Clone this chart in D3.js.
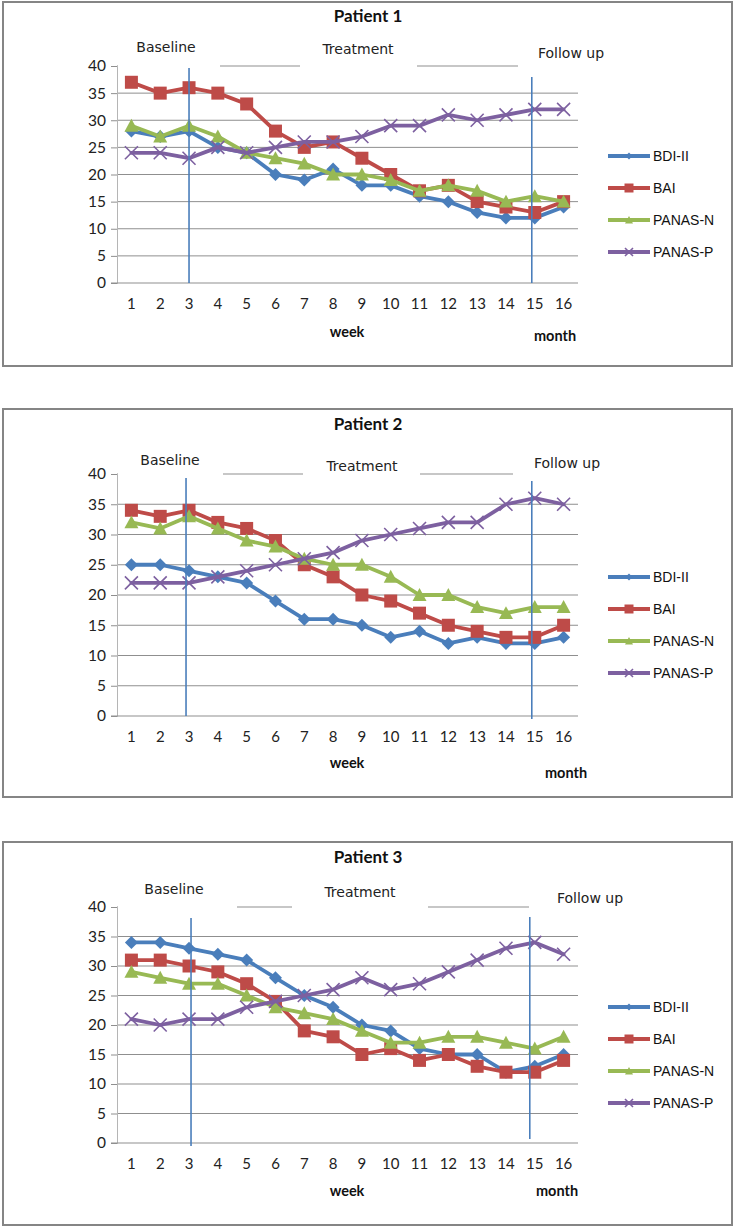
<!DOCTYPE html>
<html>
<head>
<meta charset="utf-8">
<script src="https://cdn.jsdelivr.net/npm/d3@7"></script>
<style>
  html, body { margin: 0; padding: 0; background: #fff; }
  svg { display: block; }
</style>
</head>
<body>
<svg id="chart" width="736" height="1226"></svg>
<script>
// ---------- data ----------
const weeks = ["1","2","3","4","5","6","7","8","9","10","11","12","13","14","15","16"];
const seriesNames = ["BDI-II", "BAI", "PANAS-N", "PANAS-P"];
const yTicks = [0, 5, 10, 15, 20, 25, 30, 35, 40];
const titles = ["Patient 1", "Patient 2", "Patient 3"];
const phaseLabels = ["Baseline", "Treatment", "Follow up"];
const phaseMarks = ["3", "15"];

const p1_bdi   = [28, 27, 28, 25, 24, 20, 19, 21, 18, 18, 16, 15, 13, 12, 12, 14];
const p1_bai   = [37, 35, 36, 35, 33, 28, 25, 26, 23, 20, 17, 18, 15, 14, 13, 15];
const p1_panN  = [29, 27, 29, 27, 24, 23, 22, 20, 20, 19, 17, 18, 17, 15, 16, 15];
const p1_panP  = [24, 24, 23, 25, 24, 25, 26, 26, 27, 29, 29, 31, 30, 31, 32, 32];

const p2_bdi   = [25, 25, 24, 23, 22, 19, 16, 16, 15, 13, 14, 12, 13, 12, 12, 13];
const p2_bai   = [34, 33, 34, 32, 31, 29, 25, 23, 20, 19, 17, 15, 14, 13, 13, 15];
const p2_panN  = [32, 31, 33, 31, 29, 28, 26, 25, 25, 23, 20, 20, 18, 17, 18, 18];
const p2_panP  = [22, 22, 22, 23, 24, 25, 26, 27, 29, 30, 31, 32, 32, 35, 36, 35];

const p3_bdi   = [34, 34, 33, 32, 31, 28, 25, 23, 20, 19, 16, 15, 15, 12, 13, 15];
const p3_bai   = [31, 31, 30, 29, 27, 24, 19, 18, 15, 16, 14, 15, 13, 12, 12, 14];
const p3_panN  = [29, 28, 27, 27, 25, 23, 22, 21, 19, 17, 17, 18, 18, 17, 16, 18];
const p3_panP  = [21, 20, 21, 21, 23, 24, 25, 26, 28, 26, 27, 29, 31, 33, 34, 32];

const patientSeries = [
  [p1_bdi, p1_bai, p1_panN, p1_panP],
  [p2_bdi, p2_bai, p2_panN, p2_panP],
  [p3_bdi, p3_bai, p3_panN, p3_panP]
];

// ---------- styling / layout ----------
const colors = ["#4A7EBB", "#BE4B48", "#98B954", "#7D60A0"];
const shapes = ["diamond", "square", "triangle", "cross"];
const plotLeft = 117, plotRight = 578;

const layouts = [
  { top: 2, bottom: 366, titleY: 16, phaseY: [47, 49, 53], phaseX: [166, 358, 571],
    y40: 66, y0: 283, tickY: 304, weekY: 332, monthY: 336, weekX: 347, monthX: 555,
    legendY: 156, markTop: [68, 77], markBottom: [283, 283], markDx: [0, -3],
    gaps: [[118, 220], [300, 417], [518, 579]] },
  { top: 409, bottom: 797, titleY: 424, phaseY: [460, 466, 463], phaseX: [170, 362, 567],
    y40: 474, y0: 716, tickY: 737, weekY: 763, monthY: 773, weekX: 347, monthX: 566,
    legendY: 577, markTop: [478, 481], markBottom: [716, 719], markDx: [-3, -3],
    gaps: [[118, 223], [303, 420], [513, 579]] },
  { top: 842, bottom: 1225, titleY: 857, phaseY: [889, 892, 898], phaseX: [174, 360, 590],
    y40: 907, y0: 1143, tickY: 1164, weekY: 1191, monthY: 1191, weekX: 347, monthX: 557,
    legendY: 1007, markTop: [918, 917], markBottom: [1146, 1139], markDx: [2, -5],
    gaps: [[118, 237], [292, 428], [529, 579]] }
];

const svg = d3.select("#chart");
svg.append("rect").attr("width", 736).attr("height", 1226).attr("fill", "#fff");

function markerPath(shape, s) {
  const p = d3.path();
  if (shape === "diamond") {
    p.moveTo(0, -s); p.lineTo(s, 0); p.lineTo(0, s); p.lineTo(-s, 0); p.closePath();
  } else if (shape === "square") {
    p.rect(-s, -s, 2 * s, 2 * s);
  } else if (shape === "triangle") {
    p.moveTo(0, -s); p.lineTo(s, s * 0.85); p.lineTo(-s, s * 0.85); p.closePath();
  } else {
    p.moveTo(-s, -s); p.lineTo(s, s); p.moveTo(s, -s); p.lineTo(-s, s);
  }
  return p.toString();
}

function drawMarker(g, shape, cx, cy, s, color) {
  const m = g.append("path")
    .attr("d", markerPath(shape, s))
    .attr("transform", `translate(${cx},${cy})`);
  if (shape === "cross") {
    m.attr("fill", "none").attr("stroke", color).attr("stroke-width", 1.6);
  } else {
    m.attr("fill", color);
  }
}

const x = d3.scaleBand().domain(weeks).range([plotLeft, plotRight]);
const numFont = "Lato, 'Open Sans', sans-serif";

layouts.forEach((L, pi) => {
  const g = svg.append("g");
  const y = d3.scaleLinear().domain([0, 40]).range([L.y0, L.y40]);
  const xc = d => x(d) + x.bandwidth() / 2;

  // frame
  g.append("rect")
    .attr("x", 3).attr("y", L.top).attr("width", 729).attr("height", L.bottom - L.top)
    .attr("fill", "#fff").attr("stroke", "#858585").attr("stroke-width", 2);

  // title
  g.append("text").attr("x", 368).attr("y", L.titleY).attr("dy", "0.35em")
    .attr("text-anchor", "middle")
    .style("font-family", numFont).style("font-weight", "bold")
    .style("font-size", "17px").attr("fill", "#111").text(titles[pi]);

  // gridlines
  g.append("g").selectAll("line").data(yTicks.filter(t => t > 0)).join("line")
    .attr("x1", plotLeft).attr("x2", plotRight)
    .attr("y1", d => y(d)).attr("y2", d => y(d))
    .attr("stroke", "#8f8f8f").attr("stroke-width", 1);

  // white label boxes hiding the top gridline
  g.append("g").selectAll("rect").data(L.gaps).join("rect")
    .attr("x", d => d[0]).attr("width", d => d[1] - d[0])
    .attr("y", L.y40 - 3).attr("height", 6).attr("fill", "#fff");

  // y axis
  const yAxis = d3.axisLeft(y).tickValues(yTicks).tickSize(6).tickPadding(5);
  const ya = g.append("g").attr("transform", `translate(${plotLeft},0)`).call(yAxis);
  ya.select(".domain").attr("stroke", "#b5b5b5");
  ya.selectAll(".tick line").attr("stroke", "#8f8f8f");
  ya.selectAll("text").style("font-family", numFont)
    .style("font-size", "15.5px").attr("fill", "#222");

  // x axis
  const xAxis = d3.axisBottom(x).tickSize(0).tickPadding(0);
  const xa = g.append("g").attr("transform", `translate(0,${L.y0})`).call(xAxis);
  xa.select(".domain").remove();
  g.append("line").attr("x1", plotLeft - 6).attr("x2", plotRight)
    .attr("y1", L.y0).attr("y2", L.y0).attr("stroke", "#8f8f8f");
  xa.selectAll("text").attr("y", L.tickY - L.y0).attr("dy", "0.35em")
    .style("font-family", numFont)
    .style("font-size", "15px").attr("fill", "#222");

  // phase labels
  phaseLabels.forEach((t, i) => {
    g.append("text").attr("x", L.phaseX[i]).attr("y", L.phaseY[i]).attr("dy", "0.35em")
      .attr("text-anchor", "middle")
      .style("font-family", "'DejaVu Sans', sans-serif").style("font-size", "14px")
      .attr("fill", "#222").text(t);
  });

  // axis titles
  g.append("text").attr("x", L.weekX).attr("y", L.weekY).attr("dy", "0.35em")
    .attr("text-anchor", "middle").style("font-family", numFont)
    .style("font-weight", "bold").style("font-size", "14.5px").attr("fill", "#111").text("week");
  g.append("text").attr("x", L.monthX).attr("y", L.monthY).attr("dy", "0.35em")
    .attr("text-anchor", "middle").style("font-family", numFont)
    .style("font-weight", "bold").style("font-size", "14.5px").attr("fill", "#111").text("month");

  // series
  const line = d3.line().x((d, i) => xc(weeks[i])).y(d => y(d));
  patientSeries[pi].forEach((vals, si) => {
    const sg = g.append("g");
    sg.append("path").attr("d", line(vals)).attr("fill", "none")
      .attr("stroke", colors[si]).attr("stroke-width", 3.8)
      .attr("stroke-linejoin", "round").attr("stroke-linecap", "round");
    const sz = [6.5, 6.5, 7, 6.5][si];
    vals.forEach((v, i) => drawMarker(sg, shapes[si], xc(weeks[i]), y(v), sz, colors[si]));
  });

  // phase vertical lines
  phaseMarks.forEach((w, i) => {
    const vx = xc(w) + L.markDx[i];
    g.append("line").attr("x1", vx).attr("x2", vx)
      .attr("y1", L.markTop[i]).attr("y2", L.markBottom[i])
      .attr("stroke", "#4A7EBB").attr("stroke-width", 1.6);
  });

  // legend
  seriesNames.forEach((name, si) => {
    const ly = L.legendY + si * 32;
    g.append("line").attr("x1", 608).attr("x2", 650).attr("y1", ly).attr("y2", ly)
      .attr("stroke", colors[si]).attr("stroke-width", 3.8);
    drawMarker(g, shapes[si], 629, ly, [3.5, 4.5, 4, 4][si], colors[si]);
    g.append("text").attr("x", 653).attr("y", ly).attr("dy", "0.35em")
      .style("font-family", "'Liberation Sans', Arial, sans-serif").style("font-size", "14px")
      .attr("fill", "#111").text(name);
  });
});
</script>
</body>
</html>
